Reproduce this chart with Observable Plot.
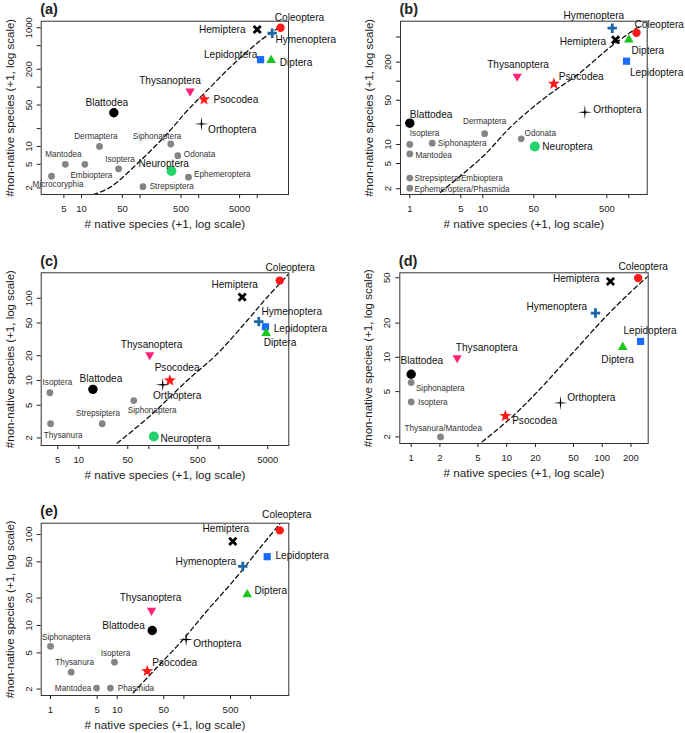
<!DOCTYPE html>
<html><head><meta charset="utf-8">
<script src="https://cdn.jsdelivr.net/npm/d3@7"></script>
<script src="https://cdn.jsdelivr.net/npm/@observablehq/plot@0.6"></script>
<style>
body{margin:0;background:#fff;}
#fig{position:relative;width:685px;height:733px;overflow:hidden;background:#fff;font-family:"Liberation Sans",Arial,Helvetica,sans-serif;}
.panel{position:absolute;}
.panel svg{overflow:visible;}
</style></head><body><div id="fig"></div>
<script>
// ---------- Panel (a) ----------
const aOrders = ["Coleoptera","Hemiptera","Hymenoptera","Lepidoptera","Diptera","Thysanoptera","Psocodea","Blattodea","Orthoptera","Neuroptera","Dermaptera","Siphonaptera","Odonata","Mantodea","Embioptera","Isoptera","Microcoryphia","Ephemeroptera","Strepsiptera"];
const aNative = [25000, 10000, 18000, 11400, 17300, 713, 1236, 35.6, 1117, 343, 20.3, 334, 440, 5.3, 11.4, 43, 3.08, 670, 112];
const aNonNative = [1000, 935, 810, 290, 283, 85, 62, 37, 24, 3.85, 10, 11, 7, 5, 5, 4.2, 3.16, 3.04, 2.1];
const aCurveX = [16, 31, 102, 290, 637, 1396, 3980, 11350, 26600];
const aCurveY = [1.55, 2.06, 5.8, 16.4, 40, 88, 247, 611, 1094];
const aXDomain = [2.05, 34200], aYDomain = [1.55, 1290];
const aXTicks = [5, 10, 50, 100, 500, 1000, 5000, 10000], aXLabels = [5, 10, 50, 500, 5000];
const aYTicks = [2, 5, 10, 20, 50, 100, 200, 500, 1000], aYLabels = [2, 5, 10, 50, 200, 1000];

// ---------- Panel (b) ----------
const bOrders = ["Hymenoptera","Coleoptera","Hemiptera","Diptera","Lepidoptera","Thysanoptera","Psocodea","Orthoptera","Blattodea","Dermaptera","Odonata","Isoptera","Siphonaptera","Neuroptera","Mantodea","Strepsiptera/Embioptera","Ephemeroptera/Phasmida"];
const bNative = [593, 1275, 658, 1000, 930, 29.6, 94, 250, 1, 10.6, 33.6, 1, 2.03, 51.6, 1, 1, 1];
const bNonNative = [688, 582, 451, 451, 207, 119, 91, 32.4, 21.7, 14.8, 12.3, 10, 10.5, 9.3, 7.1, 2.94, 2.04];
const bCurveX = [2.63, 9.8, 25.3, 72.5, 206, 593, 1445];
const bCurveY = [1.76, 6.3, 20, 55.8, 131, 366, 759];
const bXDomain = [0.746, 1786], bYDomain = [1.62, 887];
const bXTicks = [1, 5, 10, 50, 100, 500, 1000], bXLabels = [1, 5, 10, 50, 500];
const bYTicks = [2, 5, 10, 20, 50, 100, 200, 500], bYLabels = [2, 5, 10, 50, 200];

// ---------- Panel (c) ----------
const cOrders = ["Coleoptera","Hemiptera","Hymenoptera","Lepidoptera","Diptera","Thysanoptera","Psocodea","Orthoptera","Blattodea","Isoptera","Siphonaptera","Strepsiptera","Thysanura","Neuroptera"];
const cNative = [7430, 2157, 3727, 4640, 4750, 103, 200, 158, 15.9, 3.86, 61, 21.6, 3.95, 118];
const cNonNative = [164, 103, 52, 45, 37.6, 20.5, 10, 8.9, 7.8, 7.1, 5.7, 2.98, 2.98, 2.08];
const cCurveX = [35.4, 106, 354, 949, 2547, 4914, 10000];
const cCurveY = [1.73, 3.76, 10, 21.1, 53.6, 103, 198];
const cXDomain = [2.9, 10000], cYDomain = [1.62, 204];
const cXTicks = [5, 10, 50, 100, 500, 1000, 5000], cXLabels = [5, 10, 50, 500, 5000];
const cYTicks = [2, 5, 10, 20, 50, 100], cYLabels = [2, 5, 10, 20, 50, 100];

// ---------- Panel (d) ----------
const dOrders = ["Coleoptera","Hemiptera","Hymenoptera","Lepidoptera","Diptera","Thysanoptera","Blattodea","Siphonaptera","Isoptera","Orthoptera","Psocodea","Thysanura/Mantodea"];
const dNative = [238, 122, 85, 252, 164, 3.03, 1, 1, 1, 36.6, 9.7, 2.03];
const dNonNative = [49.7, 46.4, 24.5, 13.8, 12.3, 9.9, 7.1, 6.0, 4.06, 3.98, 3.05, 2];
const dCurveX = [5.54, 11.4, 21.7, 48.5, 108, 190, 308];
const dCurveY = [1.81, 3.0, 5.14, 10.8, 22.6, 36.2, 52.4];
const dXDomain = [0.76, 303], dYDomain = [1.75, 55.3];
const dXTicks = [1, 2, 5, 10, 20, 50, 100, 200], dXLabels = [1, 2, 5, 10, 20, 50, 100, 200];
const dYTicks = [2, 5, 10, 20, 50], dYLabels = [2, 5, 10, 20, 50];

// ---------- Panel (e) ----------
const eOrders = ["Coleoptera","Hemiptera","Lepidoptera","Hymenoptera","Diptera","Thysanoptera","Blattodea","Orthoptera","Siphonaptera","Isoptera","Psocodea","Thysanura","Mantodea","Phasmida"];
const eNative = [2740, 541, 1774, 764, 889, 32.7, 33.5, 108, 1, 9.1, 28.2, 2.04, 4.9, 7.9];
const eNonNative = [111, 84, 57, 44.5, 21.9, 14.6, 8.8, 7.0, 5.9, 3.95, 3.15, 3.07, 2.05, 2.05];
const eCurveX = [17.4, 39.7, 94.4, 224, 560, 1407, 2740];
const eCurveY = [1.82, 3.48, 6.84, 14.6, 31.3, 72.4, 131];
const eXDomain = [0.725, 3740], eYDomain = [1.7, 133];
const eXTicks = [1, 5, 10, 50, 100, 500, 1000], eXLabels = [1, 5, 10, 50, 500];
const eYTicks = [2, 5, 10, 20, 50, 100], eYLabels = [2, 5, 10, 20, 50, 100];

const xTitle = "# native species (+1, log scale)";
const yTitle = "#non-native species (+1, log scale)";

// ---------- label placement (anchor, dx, dy) ----------
const aPlace = [["start",-5.7,-10.4],["end",-11.7,0],["start",3.3,6.6],["end",-3.3,-5.3],["start",8.6,2.7],["middle",-20,-10.7],["start",9.4,0],["middle",-7,-9.6],["start",6.6,6],["middle",-7.7,-7.4],["middle",-3.7,-9.6],["middle",-13.7,-7.6],["start",6,-1.3],["middle",-2,-10],["middle",6.5,10.7],["middle",1.4,-9],["middle",6.5,8.3],["start",5.6,-2.4],["start",6.7,0]];
const bPlace = [["middle",-18.4,-12],["start",-2,-8.3],["end",-9.3,2.4],["start",2.7,10.7],["start",3.5,11.6],["middle",0.8,-11.7],["start",5,-7.3],["start",8.4,-2.4],["start",0,-8.4],["middle",0,-12.6],["start",3.3,-5.6],["start",0,-10.7],["start",5.6,0],["start",7.4,0],["start",5.6,1.7],["start",4.7,0],["start",4.7,1.3]];
const cPlace = [["middle",10.4,-13.3],["middle",-7.5,-12.7],["start",2.7,-10],["start",8.3,1.7],["middle",13.8,10],["middle",1.9,-10],["middle",7.2,-12.3],["middle",14.4,10.7],["middle",8,-10.7],["middle",7.5,-10],["middle",18.4,10],["middle",-4.2,-10],["middle",12.5,11.7],["start",6.7,2.3]];
const dPlace = [["middle",5,-11.7],["end",-11,-2.7],["end",-8.3,-6.7],["middle",9.5,-11],["middle",-5.1,12.6],["middle",29.5,-10],["middle",10.7,-14],["start",4.7,6],["start",6.7,0],["start",6.7,-5.4],["start",6.7,5],["middle",2.7,-8.4]];
const ePlace = [["middle",7,-16],["middle",-7,-12.7],["start",8.3,-1],["end",-6.6,-4.3],["start",7.3,-3.3],["middle",-1,-12.3],["end",-7.4,-4.3],["start",7,3.7],["middle",15.8,-9],["middle",1,-9],["start",5,-8],["middle",3.5,-9.4],["end",-5.3,0.6],["start",7.3,0.6]];

// ---------- symbols ----------
const rad = s => Math.sqrt(s / Math.PI);
const symX = {draw(c, s){const h = rad(s); c.moveTo(-h,-h); c.lineTo(h,h); c.moveTo(-h,h); c.lineTo(h,-h);}};
const symPlus = {draw(c, s){const h = rad(s); c.moveTo(-h,0); c.lineTo(h,0); c.moveTo(0,-h); c.lineTo(0,h);}};
const symSquare = {draw(c, s){const h = rad(s); c.rect(-h,-h,2*h,2*h);}};
const symTriUp = {draw(c, s){const R = rad(s); c.moveTo(0,-R); c.lineTo(0.866*R,0.5*R); c.lineTo(-0.866*R,0.5*R); c.closePath();}};
const symTriDown = {draw(c, s){const R = rad(s); c.moveTo(0,R); c.lineTo(0.866*R,-0.5*R); c.lineTo(-0.866*R,-0.5*R); c.closePath();}};
const symStar = {draw(c, s){const R = rad(s), r = R*0.42; for(let k=0;k<10;k++){const a = -Math.PI/2 + k*Math.PI/5, q = k%2 ? r : R; k ? c.lineTo(q*Math.cos(a), q*Math.sin(a)) : c.moveTo(q*Math.cos(a), q*Math.sin(a));} c.closePath();}};
const symSpark = {draw(c, s){const R = rad(s), r = R*0.14; for(let k=0;k<8;k++){const a = -Math.PI/2 + k*Math.PI/4, q = k%2 ? r : R; k ? c.lineTo(q*Math.cos(a), q*Math.sin(a)) : c.moveTo(q*Math.cos(a), q*Math.sin(a));} c.closePath();}};

const STYLE = {
  Coleoptera:  {symbol:"circle", r:4.2, fill:"#ff1a1a", stroke:"none"},
  Hemiptera:   {symbol:symX,     r:3.6, fill:"none", stroke:"#000", strokeWidth:2.8},
  Hymenoptera: {symbol:symPlus,  r:4.7, fill:"none", stroke:"#1c66a6", strokeWidth:2.8},
  Lepidoptera: {symbol:symSquare,r:3.6, fill:"#1a6cff", stroke:"none"},
  Diptera:     {symbol:symTriUp, r:5.6, fill:"#1ec41e", stroke:"none"},
  Thysanoptera:{symbol:symTriDown,r:5.4,fill:"#ff2277", stroke:"none"},
  Psocodea:    {symbol:symStar,  r:6.3, fill:"#ff1a1a", stroke:"none"},
  Blattodea:   {symbol:"circle", r:4.7, fill:"#000", stroke:"none"},
  Orthoptera:  {symbol:symSpark, r:7.3, fill:"#000", stroke:"none"},
  Neuroptera:  {symbol:"circle", r:5,   fill:"#22d36c", stroke:"none"}
};
const GRAY = {symbol:"circle", r:3.4, fill:"#858585", stroke:"none"};

function buildPanel(cfg) {
  const rows = cfg.orders.map((o, i) => ({order:o, x:cfg.native[i], y:cfg.nonNative[i], anchor:cfg.place[i][0], dx:cfg.place[i][1], dy:cfg.place[i][2], major: o in STYLE}));
  const curve = cfg.curveX.map((x, i) => ({x, y:cfg.curveY[i]}));
  const marks = [
    Plot.line(curve, {x:"x", y:"y", stroke:"#111", strokeWidth:1.3, strokeDasharray:"4.5,3.2", curve:"catmull-rom", clip:true}),
    Plot.axisX({ticks:cfg.xTicks, tickFormat:() => "", tickSize:4, label:null}),
    Plot.text(cfg.xLabels, {x:d => d, text:d => String(d), frameAnchor:"bottom", dy:14, lineAnchor:"middle", textAnchor:"middle", fontSize:9.5}),
    Plot.axisY({ticks:cfg.yTicks, tickFormat:() => "", tickSize:4, label:null}),
    Plot.text(cfg.yLabels, {y:d => d, text:d => String(d), frameAnchor:"left", dx:-12.5, rotate:-90, textAnchor:"middle", lineAnchor:"middle", fontSize:9.5}),
    Plot.text([xTitle], {frameAnchor:"bottom", dy:29.5, lineAnchor:"middle", fontSize:11.7}),
    Plot.text([yTitle], {frameAnchor:"left", dx:-31, rotate:-90, lineAnchor:"middle", textAnchor:"middle", fontSize:11.5}),
    Plot.text([cfg.letter], {frameAnchor:"top-left", dx:-1, dy:-11.5, textAnchor:"start", lineAnchor:"middle", fontSize:14.5, fontWeight:"bold"})
  ];
  const grayRows = rows.filter(d => !d.major);
  marks.push(Plot.dot(grayRows, {x:"x", y:"y", ...GRAY}));
  for (const d of rows.filter(d => d.major)) {
    marks.push(Plot.dot([d], {x:"x", y:"y", ...STYLE[d.order]}));
  }
  for (const d of rows) {
    marks.push(Plot.text([d], {x:"x", y:"y", text:"order", textAnchor:d.anchor, lineAnchor:"middle", dx:d.dx, dy:d.dy, fontSize:d.major ? 10.1 : 8.2, fill:d.major ? "#111" : "#333"}));
  }
  marks.push(Plot.frame({stroke:"#333", strokeWidth:1}));
  const svg = Plot.plot({
    width:cfg.width, height:cfg.height,
    marginLeft:cfg.m[0], marginRight:cfg.m[1], marginTop:cfg.m[2], marginBottom:cfg.m[3],
    x:{type:"log", domain:cfg.xDomain, axis:null},
    y:{type:"log", domain:cfg.yDomain, axis:null},
    style:{fontFamily:'"Liberation Sans", Arial, sans-serif', fontSize:"9.5px", color:"#222", background:"transparent", overflow:"visible"},
    marks
  });
  const div = document.createElement("div");
  div.className = "panel";
  div.style.left = cfg.left + "px";
  div.style.top = cfg.top + "px";
  div.appendChild(svg);
  document.getElementById("fig").appendChild(div);
}

buildPanel({letter:"(a)", left:0, top:0, width:345, height:230, m:[40.7, 57, 20.7, 36],
  orders:aOrders, native:aNative, nonNative:aNonNative, place:aPlace, curveX:aCurveX, curveY:aCurveY,
  xDomain:aXDomain, yDomain:aYDomain, xTicks:aXTicks, xLabels:aXLabels, yTicks:aYTicks, yLabels:aYLabels});
buildPanel({letter:"(b)", left:345, top:0, width:340, height:230, m:[55, 38.3, 20.7, 36],
  orders:bOrders, native:bNative, nonNative:bNonNative, place:bPlace, curveX:bCurveX, curveY:bCurveY,
  xDomain:bXDomain, yDomain:bYDomain, xTicks:bXTicks, xLabels:bXLabels, yTicks:bYTicks, yLabels:bYLabels});
buildPanel({letter:"(c)", left:0, top:230, width:345, height:250, m:[40.7, 56.7, 42.3, 35],
  orders:cOrders, native:cNative, nonNative:cNonNative, place:cPlace, curveX:cCurveX, curveY:cCurveY,
  xDomain:cXDomain, yDomain:cYDomain, xTicks:cXTicks, xLabels:cXLabels, yTicks:cYTicks, yLabels:cYLabels});
buildPanel({letter:"(d)", left:345, top:230, width:340, height:250, m:[54.3, 37.3, 42.3, 37],
  orders:dOrders, native:dNative, nonNative:dNonNative, place:dPlace, curveX:dCurveX, curveY:dCurveY,
  xDomain:dXDomain, yDomain:dYDomain, xTicks:dXTicks, xLabels:dXLabels, yTicks:dYTicks, yLabels:dYLabels});
buildPanel({letter:"(e)", left:0, top:460, width:345, height:273, m:[40.7, 56.7, 62.7, 38],
  orders:eOrders, native:eNative, nonNative:eNonNative, place:ePlace, curveX:eCurveX, curveY:eCurveY,
  xDomain:eXDomain, yDomain:eYDomain, xTicks:eXTicks, xLabels:eXLabels, yTicks:eYTicks, yLabels:eYLabels});
</script></body></html>
